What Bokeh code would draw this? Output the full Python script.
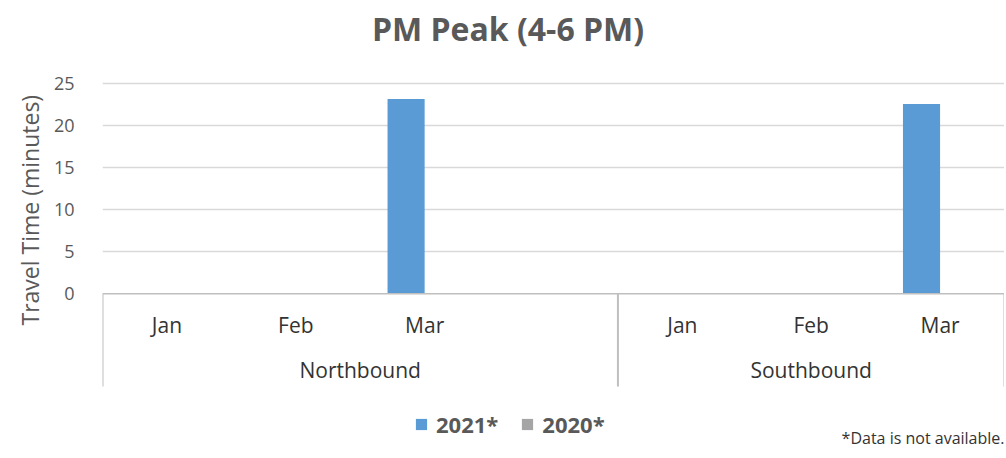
import math
from bokeh.plotting import figure
from bokeh.models import (ColumnDataSource, FactorRange, Range1d, FixedTicker, Span,
                          Legend, LegendItem, Title)
from bokeh.transform import dodge
from bokeh.core.properties import value
from bokeh.embed import file_html
from bokeh.resources import INLINE

# ---- data ----
directions = ["Northbound", "Northbound", "Northbound", "Northbound",
              "Southbound", "Southbound", "Southbound"]
months = ["Jan", "Feb", "Mar", " ", "Jan", "Feb", "Mar"]
tt_2021 = [float("nan"), float("nan"), 23.2, float("nan"),
           float("nan"), float("nan"), 22.6]
tt_2020 = [float("nan")] * 7
series_names = ["2021*", "2020*"]
groups = ["Northbound", "Southbound"]
y_ticks = [0, 5, 10, 15, 20, 25]
chart_title = "PM Peak (4-6 PM)"
y_title = "Travel Time (minutes)"
footnote = "*Data is not available."

FONT = "Open Sans"
TXT = "#595959"

factors = list(zip(directions, months))
src = ColumnDataSource(dict(x=factors, month=months, y2021=tt_2021, y2020=tt_2020))

p = figure(width=1004, height=456, title=None,
           x_range=FactorRange(*factors, group_padding=0, factor_padding=0, range_padding=0),
           y_range=Range1d(-19.37, 34.92),
           x_axis_location=None,
           min_border_left=102, min_border_right=0, min_border_top=0, min_border_bottom=0,
           output_backend="svg", toolbar_location=None)
p.outline_line_color = None
p.background_fill_color = "white"
p.border_fill_color = "white"

# y axis
ax = p.yaxis[0]
ax.ticker = FixedTicker(ticks=y_ticks)
ax.axis_line_color = None
ax.major_tick_line_color = None
ax.minor_tick_line_color = None
ax.major_label_text_font = FONT
ax.major_label_text_font_size = "18px"
ax.major_label_text_color = TXT
ax.major_label_standoff = 22

# axis title (as a left-side title so it can be placed along the axis)
p.add_layout(Title(text=y_title, align="left", offset=131, standoff=10,
                   text_font=FONT, text_font_size="23px", text_font_style="normal",
                   text_color=TXT), "left")

p.xgrid.grid_line_color = None
p.ygrid.ticker = FixedTicker(ticks=y_ticks[1:])
p.ygrid.grid_line_color = "#D9D9D9"
p.ygrid.grid_line_width = 1.3

# baseline
p.add_layout(Span(location=0, dimension="width", line_color="#BFBFBF", line_width=1.5))

# bars
r21 = p.vbar(x=dodge("x", -0.144, range=p.x_range), top="y2021", width=0.288,
             source=src, fill_color="#5B9BD5", line_color=None)
r20 = p.vbar(x=dodge("x", 0.144, range=p.x_range), top="y2020", width=0.288,
             source=src, fill_color="#A5A5A5", line_color=None)

# category axis separators (group boundaries)
sep_x = []
for g in groups:
    first = [f for f in factors if f[0] == g][0]
    sep_x.append((first[0], first[1], -0.5))
sep_x.append((factors[-1][0], factors[-1][1], 0.5))
p.segment(x0=sep_x, y0=[0] * len(sep_x), x1=sep_x, y1=[-11.04] * len(sep_x),
          line_color="#BFBFBF", line_width=2)

# category labels
p.text(x="x", y=-3.77, text="month", source=src, text_font=value(FONT),
       text_font_size="21px", text_color="#333333", text_align="center",
       text_baseline="middle")
p.text(x=groups, y=[-9.13] * len(groups), text=groups, text_font=value(FONT),
       text_font_size="21px", text_color="#333333", text_align="center",
       text_baseline="middle")

# chart title (drawn inside the frame, centred on the page)
p.text(x=[3.147], y=[31.58], text=[chart_title], text_font=value(FONT),
       text_font_size="32px", text_font_style="bold", text_color=TXT,
       text_align="center", text_baseline="middle")

# footnote
p.text(x=[(factors[-1][0], factors[-1][1], 0.5)], y=[-17.2], text=[footnote],
       text_font=value(FONT), text_font_size="16px", text_color="#333333",
       text_align="right", text_baseline="middle")

# legend
legend = Legend(items=[LegendItem(label=series_names[0], renderers=[r21]),
                       LegendItem(label=series_names[1], renderers=[r20])],
                orientation="horizontal", location=(312, 17),
                glyph_width=14, glyph_height=14, label_standoff=8, spacing=22,
                padding=0, margin=0, border_line_color=None,
                background_fill_alpha=0,
                label_text_font=FONT, label_text_font_size="22px",
                label_text_font_style="bold", label_text_color=TXT)
p.add_layout(legend)

open("out.html", "w").write(file_html(p, INLINE))
